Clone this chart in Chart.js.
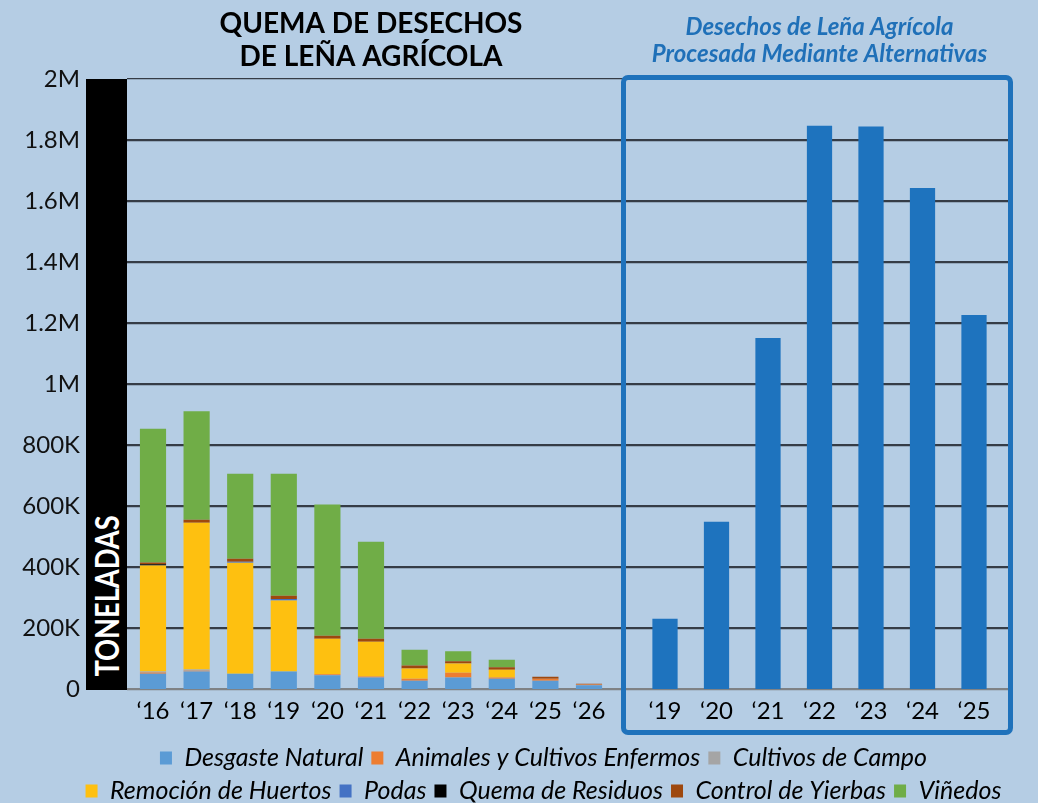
<!DOCTYPE html>
<html>
<head>
<meta charset="utf-8">
<script src="https://cdn.jsdelivr.net/npm/chart.js@4.4.1/dist/chart.umd.min.js"></script>
<style>
  html, body { margin: 0; padding: 0; background: #b5cde4; }
  #wrap { position: relative; width: 1038px; height: 803px; background: #b5cde4; overflow: hidden; font-family: Lato, sans-serif; }
  #wrap canvas { position: absolute; left: 0; top: 0; }
  #ylabel { position: absolute; left: 86px; top: 79px; width: 41px; height: 611px; background: #000; }
  #ylabel span { position: absolute; left: 21px; top: 517px; transform: translate(-50%, -50%) rotate(-90deg) scaleX(0.85);
    white-space: nowrap; font: bold 32px Lato, sans-serif; line-height: 1; color: #fff; }
  #altBox { position: absolute; left: 621px; top: 75px; width: 392px; height: 660px; box-sizing: border-box;
    border: 5px solid #1f72bb; border-radius: 7px; }
</style>
</head>
<body>
<div id="wrap">
  <canvas id="grid" width="1038" height="803"></canvas>
  <canvas id="axis" width="1038" height="803"></canvas>
  <canvas id="burn" width="1038" height="803"></canvas>
  <canvas id="alt" width="1038" height="803"></canvas>
  <div id="ylabel"><span>TONELADAS</span></div>
  <div id="altBox"></div>
</div>
<script>
// categories
const years = ['\u201816', '\u201817', '\u201818', '\u201819', '\u201820', '\u201821', '\u201822', '\u201823', '\u201824', '\u201825', '\u201826'];
const altYears = ['\u201819', '\u201820', '\u201821', '\u201822', '\u201823', '\u201824', '\u201825'];
const yTickLabels = ['0', '200K', '400K', '600K', '800K', '1M', '1.2M', '1.4M', '1.6M', '1.8M', '2M'];

const seriesNames = ['Desgaste Natural', 'Animales y Cultivos Enfermos', 'Cultivos de Campo', 'Remoción de Huertos',
  'Podas', 'Quema de Residuos', 'Control de Yierbas', 'Viñedos'];
const seriesColors = ['#5b9bd5', '#ed7d31', '#a5a5a5', '#fec010', '#4472c4', '#000000', '#9e480e', '#70ad47'];

// toneladas quemadas por año
const desgaste  = [50000, 57000, 50000, 57000, 45000, 38000, 27000, 38000, 34000, 27000, 12000];
const animales  = [4000, 3000, 0, 0, 3000, 3000, 7000, 15000, 4000, 7000, 3000];
const cultivos  = [3000, 4000, 0, 0, 0, 0, 0, 0, 0, 0, 0];
const remocion  = [348000, 481000, 364000, 233000, 117000, 114000, 33000, 31000, 25000, 0, 0];
const podas     = [0, 0, 3000, 5000, 0, 0, 0, 0, 0, 0, 0];
const quema     = [4000, 0, 0, 0, 0, 0, 0, 0, 0, 0, 0];
const control   = [6000, 10000, 10000, 11000, 10000, 10000, 10000, 7000, 8000, 6000, 2000];
const vinedos   = [438000, 356000, 279000, 400000, 430000, 318000, 52000, 33000, 25000, 0, 0];
const burnSeries = [desgaste, animales, cultivos, remocion, podas, quema, control, vinedos];

// procesada mediante alternativas
const alternativas = [230000, 548000, 1151000, 1847000, 1844000, 1643000, 1226000];

const W = 1038, H = 803;
const AREA_TOP = 79, AREA_BOTTOM = 689;
const LEG_PAD_BOTTOM = -10.5;

Chart.defaults.font.family = 'Lato';
Chart.defaults.color = '#000';

// background grid and legend
new Chart(document.getElementById('grid'), {
  type: 'bar',
  data: { labels: [''], datasets: [] },
  options: {
    responsive: false,
    animation: false,
    layout: { padding: { left: 49, right: 0, top: AREA_TOP, bottom: LEG_PAD_BOTTOM } },
    plugins: {
      tooltip: { enabled: false },
      legend: {
        display: true,
        position: 'bottom',
        labels: {
          font: { family: 'Lato', size: 25, style: 'italic' },
          color: '#111',
          boxWidth: 12,
          boxHeight: 13,
          padding: 8,
          generateLabels: () => seriesNames.map((t, i) => ({
            text: t, fillStyle: seriesColors[i], strokeStyle: seriesColors[i], lineWidth: 0, hidden: false, datasetIndex: i
          }))
        }
      }
    },
    scales: {
      x: {
        display: true,
        grid: { display: false, drawTicks: false },
        border: { display: false },
        ticks: { display: false },
        afterFit: s => { s.height = H - LEG_PAD_BOTTOM - s.chart.legend.height - AREA_BOTTOM; }
      },
      y: {
        min: 0,
        max: 2000000,
        ticks: { stepSize: 200000, display: false },
        grid: {
          drawTicks: false,
          color: c => c.tick && c.tick.value === 0 ? '#7f8285' : '#353c46',
          lineWidth: c => c.tick && c.tick.value === 2000000 ? 1.2 : 2.2
        },
        border: { display: false },
        afterFit: s => { s.width = 127 - 49; }
      },
      y2: {
        position: 'right',
        display: true,
        grid: { display: false },
        border: { display: false },
        ticks: { display: false },
        afterFit: s => { s.width = W - 1008; }
      }
    }
  }
});

// y tick labels
new Chart(document.getElementById('axis'), {
  type: 'bar',
  data: { labels: [''], datasets: [] },
  options: {
    responsive: false,
    animation: false,
    layout: { padding: { left: 0, right: 0, top: AREA_TOP, bottom: 0 } },
    plugins: { legend: { display: false }, tooltip: { enabled: false } },
    scales: {
      x: {
        display: true,
        grid: { display: false, drawTicks: false },
        border: { display: false },
        ticks: { display: false },
        afterFit: s => { s.height = H - AREA_BOTTOM; }
      },
      y: {
        min: 0,
        max: 2000000,
        ticks: { stepSize: 200000, padding: 47, color: '#111', font: { size: 24 }, callback: (v, i) => yTickLabels[i] },
        grid: { display: false, drawTicks: false },
        border: { display: false },
        afterFit: s => { s.width = 127; }
      }
    }
  }
});

// stacked burn chart
new Chart(document.getElementById('burn'), {
  type: 'bar',
  data: {
    labels: years,
    datasets: seriesNames.map((n, i) => ({
      label: n,
      data: burnSeries[i],
      backgroundColor: seriesColors[i],
      borderWidth: 0,
      barPercentage: 0.6,
      categoryPercentage: 1
    }))
  },
  options: {
    responsive: false,
    animation: false,
    layout: { padding: { left: 131.2, right: W - 610.8, top: 7, bottom: 0 } },
    plugins: {
      legend: { display: false },
      tooltip: { enabled: false },
      title: {
        display: true,
        text: ['QUEMA DE DESECHOS', 'DE LEÑA AGRÍCOLA'],
        color: '#000',
        font: { family: 'Lato', size: 28, weight: 'bold', lineHeight: 1.18 },
        padding: { top: 0, bottom: AREA_TOP - 7 - 2 * 28 * 1.18 }
      }
    },
    scales: {
      x: {
        stacked: true,
        grid: { display: false, drawTicks: false },
        border: { display: false },
        ticks: { color: '#000', font: { size: 24 }, padding: 8, autoSkip: false, maxRotation: 0 },
        afterFit: s => { s.height = H - AREA_BOTTOM; }
      },
      y: { stacked: true, display: false, min: 0, max: 2000000 }
    }
  }
});

// alternatives chart
new Chart(document.getElementById('alt'), {
  type: 'bar',
  data: {
    labels: altYears,
    datasets: [{
      label: 'Procesada Mediante Alternativas',
      data: alternativas,
      backgroundColor: '#1e73be',
      borderWidth: 0,
      barPercentage: 0.49,
      categoryPercentage: 1
    }]
  },
  options: {
    responsive: false,
    animation: false,
    layout: { padding: { left: 639.25, right: W - 999.75, top: 13, bottom: 0 } },
    plugins: {
      legend: { display: false },
      tooltip: { enabled: false },
      title: {
        display: true,
        text: ['Desechos de Leña Agrícola', 'Procesada Mediante Alternativas'],
        color: '#1f70b8',
        font: { family: 'Lato', size: 24, weight: 'bold', style: 'italic', lineHeight: 1.15 },
        padding: { top: 0, bottom: AREA_TOP - 13 - 2 * 24 * 1.15 }
      }
    },
    scales: {
      x: {
        grid: { display: false, drawTicks: false },
        border: { display: false },
        ticks: { color: '#000', font: { size: 24 }, padding: 8, autoSkip: false, maxRotation: 0 },
        afterFit: s => { s.height = H - AREA_BOTTOM; }
      },
      y: { display: false, min: 0, max: 2000000 }
    }
  }
});
</script>
</body>
</html>
